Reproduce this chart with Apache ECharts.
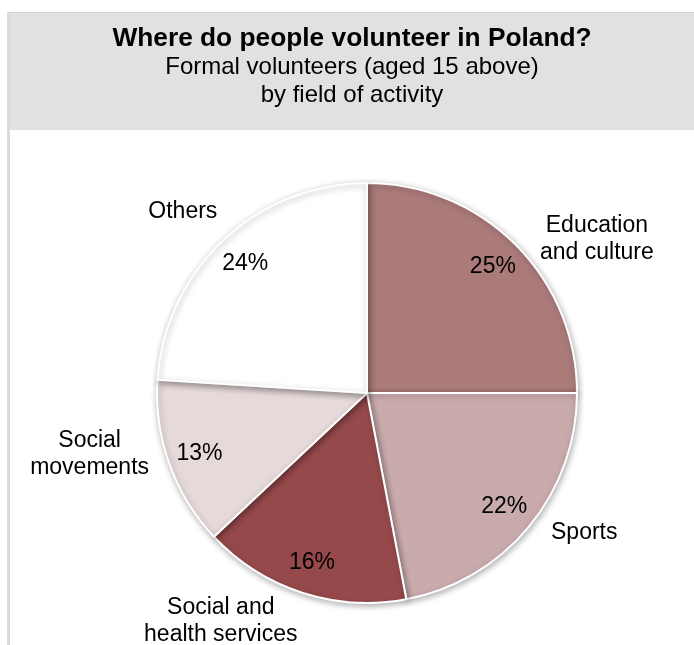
<!DOCTYPE html>
<html>
<head>
<meta charset="utf-8">
<script src="https://cdn.jsdelivr.net/npm/echarts@6/dist/echarts.min.js"></script>
<style>
html,body{margin:0;padding:0;background:#fff;}
#chart{width:694px;height:645px;}
</style>
</head>
<body>
<div id="chart"></div>
<script>
// ---- data ----
const categories = ['Education\nand culture', 'Sports', 'Social and\nhealth services', 'Social\nmovements', 'Others'];
const values = [25, 22, 16, 13, 24];
const titleText = 'Where do people volunteer in Poland?';
const subtitleText = 'Formal volunteers (aged 15 above)\nby field of activity';

// ---- style ----
const sliceColors = ['#ab7b7a', '#c9abac', '#96494b', '#e6d9da', '#ffffff'];
// label line tuning (length, length2) per slice, used only to place the outside name labels
const nameLabelTune = [[7.1, 14.5], [9.2, 10.1], [30.2, -9.7], [-29.9, 43.5], [38.3, -25.3]];

const FONT = "'Liberation Sans', Arial, sans-serif";
const chart = echarts.init(document.getElementById('chart'), null, {renderer: 'canvas'});

const mainData = categories.map((c, i) => ({
  name: c,
  value: values[i],
  itemStyle: {color: sliceColors[i]},
  labelLine: {show: false, length: nameLabelTune[i][0], length2: nameLabelTune[i][1]}
}));
const ringData = categories.map((c, i) => ({name: c, value: values[i]}));

const option = {
  animation: false,
  backgroundColor: '#ffffff',
  graphic: [
    {type: 'rect', z: -10, shape: {x: 8, y: 12, width: 686, height: 118}, style: {fill: '#e1e1e1'}},
    {type: 'rect', z: -9, shape: {x: 8, y: 12, width: 686, height: 1}, style: {fill: '#d2d2d2'}},
    {type: 'rect', z: -9, shape: {x: 7, y: 12, width: 3, height: 640}, style: {fill: '#dadada'}}
  ],
  title: {
    text: titleText,
    subtext: subtitleText,
    left: 352,
    top: 23.5,
    textAlign: 'center',
    padding: 0,
    itemGap: 0.5,
    textStyle: {fontFamily: FONT, fontSize: 26.3, fontWeight: 'bold', color: '#000', lineHeight: 30},
    subtextStyle: {fontFamily: FONT, fontSize: 24, color: '#000', lineHeight: 27.5}
  },
  series: [
    {
      type: 'pie',
      name: 'Field of activity',
      center: [367, 393],
      radius: [0, 210],
      startAngle: 90,
      clockwise: true,
      avoidLabelOverlap: false,
      silent: true,
      itemStyle: {
        borderColor: '#ffffff',
        borderWidth: 2,
        shadowBlur: 6,
        shadowColor: 'rgba(0,0,0,0.30)',
        shadowOffsetX: 1,
        shadowOffsetY: 2
      },
      label: {
        show: true,
        position: 'outside',
        distanceToLabelLine: 5,
        formatter: p => p.name.split('\n').map(s => '{c|' + s + '}').join('\n'),
        rich: {c: {fontFamily: FONT, fontSize: 23, lineHeight: 27, color: '#000', align: 'center'}}
      },
      data: mainData
    },
    {
      type: 'pie',
      name: 'Share',
      center: [367, 393],
      radius: [140, 210],
      startAngle: 90,
      clockwise: true,
      silent: true,
      avoidLabelOverlap: false,
      itemStyle: {color: 'rgba(0,0,0,0)', borderWidth: 0},
      label: {
        show: true,
        position: 'inside',
        formatter: p => p.value + '%',
        fontFamily: FONT,
        fontSize: 23,
        color: '#000'
      },
      labelLine: {show: false},
      data: ringData
    }
  ]
};
chart.setOption(option);
</script>
</body>
</html>
